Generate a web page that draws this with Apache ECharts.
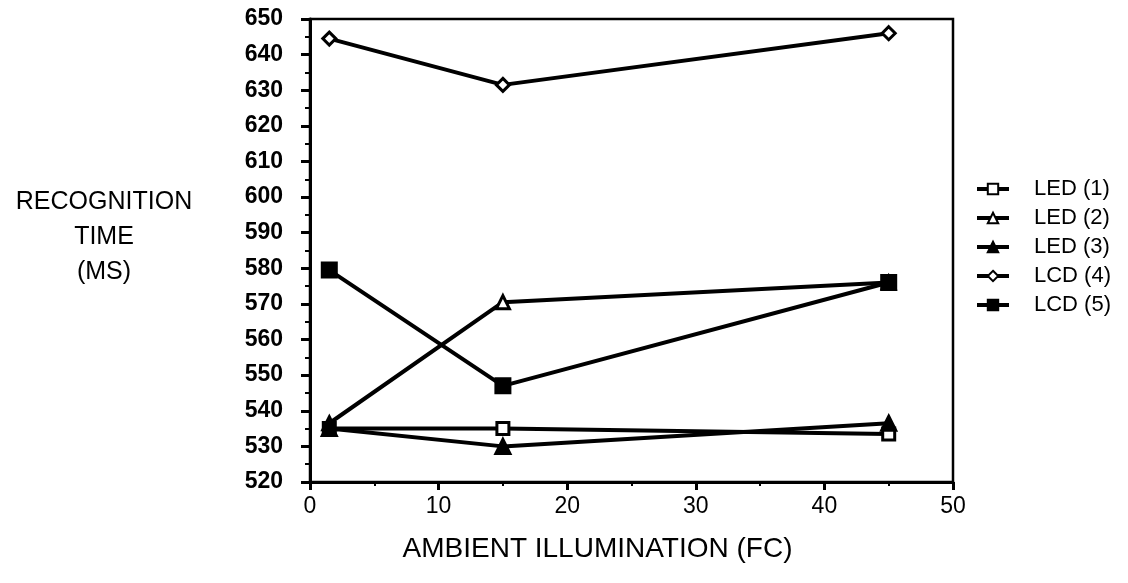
<!DOCTYPE html>
<html>
<head>
<meta charset="utf-8">
<script src="https://cdn.jsdelivr.net/npm/echarts@6/dist/echarts.min.js"></script>
<style>
  html, body {margin: 0; padding: 0; background: #fff;}
  #chart {width: 1128px; height: 583px;}
</style>
</head>
<body>
<div id="chart"></div>
<script>
// illumination levels (FC)
var illum = [1.5, 15, 45];
// recognition time (ms) per display
var led1 = [535, 535, 533.5];
var led2 = [536.5, 570.5, 576];
var led3 = [535, 530, 536.5];
var lcd4 = [644.5, 631.5, 646];
var lcd5 = [579.5, 547, 576];
var names = ['LED (1)', 'LED (2)', 'LED (3)', 'LCD (4)', 'LCD (5)'];

var FONT = 'Liberation Sans';

function pairs(ys) {
  return ys.map(function (y, i) { return [illum[i], y]; });
}

function mkSeries(name, ys, symbol, size, fill) {
  return {
    name: name,
    type: 'line',
    data: pairs(ys),
    symbol: symbol,
    symbolSize: size,
    showAllSymbol: true,
    lineStyle: {color: '#000', width: 4},
    itemStyle: {color: fill, borderColor: '#000', borderWidth: 3},
    emphasis: {disabled: true},
    animation: false
  };
}

var chart = echarts.init(document.getElementById('chart'));
chart.setOption({
  backgroundColor: '#fff',
  animation: false,
  grid: {
    left: 310, right: 175, top: 19, bottom: 101,
    show: true, borderColor: '#000', borderWidth: 2.5, backgroundColor: 'transparent'
  },
  legend: {
    orient: 'vertical',
    left: 970,
    top: 173,
    itemWidth: 32,
    itemHeight: 13,
    itemGap: 7,
    data: names,
    lineStyle: {width: 4},
    textStyle: {fontFamily: FONT, fontSize: 22, color: '#000', padding: [0, 0, 0, 20]}
  },
  xAxis: {
    type: 'value',
    min: 0, max: 50, interval: 10,
    name: 'AMBIENT ILLUMINATION (FC)',
    nameLocation: 'middle',
    nameGap: 53,
    nameTextStyle: {fontFamily: FONT, fontSize: 28, color: '#000', padding: [0, 68, 0, 0]},
    axisLine: {show: true, lineStyle: {color: '#000', width: 3}},
    axisTick: {show: true, length: 8, lineStyle: {color: '#000', width: 3}},
    minorTick: {show: true, splitNumber: 2, length: 4, lineStyle: {color: '#000', width: 2}},
    axisLabel: {fontFamily: FONT, fontSize: 23, color: '#000', margin: 13},
    splitLine: {show: false}
  },
  yAxis: {
    type: 'value',
    min: 520, max: 650, interval: 10,
    axisLine: {show: true, lineStyle: {color: '#000', width: 3}},
    axisTick: {show: true, length: 9, lineStyle: {color: '#000', width: 3}},
    minorTick: {show: true, splitNumber: 2, length: 5, lineStyle: {color: '#000', width: 2}},
    axisLabel: {fontFamily: FONT, fontSize: 23, fontWeight: 'bold', color: '#000', margin: 27},
    splitLine: {show: false}
  },
  graphic: [{
    type: 'text',
    x: 104,
    y: 185,
    style: {
      text: 'RECOGNITION\nTIME\n(MS)',
      fontFamily: FONT,
      fontSize: 25,
      lineHeight: 35,
      align: 'center',
      verticalAlign: 'top',
      fill: '#000'
    }
  }],
  series: [
    mkSeries(names[0], led1, 'rect', 12, '#fff'),
    mkSeries(names[1], led2, 'triangle', 13, '#fff'),
    mkSeries(names[2], led3, 'triangle', 14, '#000'),
    mkSeries(names[3], lcd4, 'diamond', 13, '#fff'),
    mkSeries(names[4], lcd5, 'rect', 14, '#000')
  ]
});
</script>
</body>
</html>
